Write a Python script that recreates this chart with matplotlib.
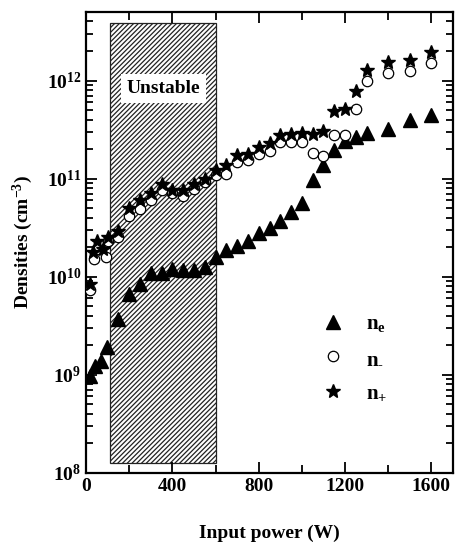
import matplotlib
matplotlib.use("Agg")
import matplotlib.pyplot as plt
from matplotlib.patches import Rectangle
from matplotlib.ticker import LogLocator, MultipleLocator, NullFormatter

plt.rcParams['font.family'] = 'Liberation Serif'
plt.rcParams['font.weight'] = 'bold'
plt.rcParams['axes.labelweight'] = 'bold'
plt.rcParams['mathtext.fontset'] = 'custom'
plt.rcParams['mathtext.rm'] = 'Liberation Serif:bold'
plt.rcParams['mathtext.it'] = 'Liberation Serif:bold'
plt.rcParams['mathtext.bf'] = 'Liberation Serif:bold'
plt.rcParams['hatch.linewidth'] = 0.9

# electron density n_e (triangles)
p_ne = [20, 40, 70, 95, 150, 200, 250, 300, 350, 400, 450, 500, 550, 600, 650, 700,
        750, 800, 850, 900, 950, 1000, 1050, 1100, 1150, 1200, 1250, 1300, 1400, 1500, 1600]
ne = [9.8e8, 1.23e9, 1.38e9, 1.9e9, 3.7e9, 6.6e9, 8.5e9, 1.08e10, 1.08e10, 1.2e10, 1.17e10,
      1.17e10, 1.26e10, 1.57e10, 1.87e10, 2.07e10, 2.33e10, 2.79e10, 3.14e10, 3.73e10, 4.6e10,
      5.7e10, 9.7e10, 1.38e11, 1.96e11, 2.4e11, 2.64e11, 2.9e11, 3.2e11, 3.97e11, 4.5e11]

# negative ion density n_- (open circles)
p_nm = [20, 35, 50, 90, 100, 150, 200, 250, 300, 350, 400, 450, 500, 550, 600, 650, 700,
        750, 800, 850, 900, 950, 1000, 1050, 1100, 1150, 1200, 1250, 1300, 1400, 1500, 1600]
nm = [7.3e9, 1.5e10, 1.9e10, 1.6e10, 2.3e10, 2.56e10, 4.2e10, 4.9e10, 6.0e10, 7.7e10, 7.1e10,
      6.7e10, 7.85e10, 9.2e10, 1.1e11, 1.12e11, 1.47e11, 1.53e11, 1.76e11, 1.93e11, 2.35e11,
      2.35e11, 2.35e11, 1.83e11, 1.69e11, 2.81e11, 2.81e11, 5.1e11, 9.8e11, 1.19e12, 1.24e12, 1.5e12]

# positive ion density n_+ (stars)
p_np = [20, 30, 50, 80, 100, 150, 200, 250, 300, 350, 400, 450, 500, 550, 600, 650, 700,
        750, 800, 850, 900, 950, 1000, 1050, 1100, 1150, 1200, 1250, 1300, 1400, 1500, 1600]
npos = [8.5e9, 1.8e10, 2.3e10, 1.9e10, 2.56e10, 2.95e10, 5.0e10, 6.05e10, 7.2e10, 8.8e10, 7.7e10,
        7.7e10, 8.8e10, 9.9e10, 1.21e11, 1.36e11, 1.72e11, 1.79e11, 2.09e11, 2.29e11, 2.75e11,
        2.86e11, 2.9e11, 2.86e11, 3.04e11, 4.9e11, 5.1e11, 7.8e11, 1.29e12, 1.54e12, 1.63e12, 1.95e12]

unstable_range = (110, 600)

fig = plt.figure(figsize=(4.58, 5.44), dpi=100)
ax = fig.add_axes([0.188, 0.131, 0.801, 0.847])

ax.add_patch(Rectangle((unstable_range[0], 1.26e8), unstable_range[1] - unstable_range[0],
                       3.9e12 - 1.26e8, facecolor='white', edgecolor='#222222',
                       hatch='///////', lw=0.9, zorder=1))
ax.text(360, 8.3e11, 'Unstable', fontsize=14, fontweight='bold', ha='center', va='center',
        zorder=2, bbox=dict(facecolor='white', edgecolor='none', pad=4))

ax.plot(p_ne, ne, '^', color='black', ms=9.5, ls='none', label=r'n$_{\rm e}$', zorder=3)
ax.plot(p_nm, nm, 'o', mfc='white', mec='black', mew=0.9, ms=7.5, ls='none',
        label=r'n$_{\text{-}}$', zorder=3)
ax.plot(p_np, npos, '*', color='black', ms=10, ls='none', label=r'n$_{+}$', zorder=4)

ax.set_yscale('log')
ax.set_xlim(0, 1700)
ax.set_ylim(1e8, 5e12)
ax.xaxis.set_major_locator(MultipleLocator(400))
ax.xaxis.set_minor_locator(MultipleLocator(200))
ax.yaxis.set_major_locator(LogLocator(base=10, numticks=10))
ax.yaxis.set_minor_locator(LogLocator(base=10, subs=range(2, 10), numticks=10))
ax.yaxis.set_minor_formatter(NullFormatter())

ax.tick_params(which='both', direction='in', top=True, right=True, labelsize=14, width=1.3)
ax.tick_params(which='major', length=8)
ax.tick_params(which='minor', length=5)
ax.tick_params(axis='x', which='minor', length=6)
for s in ax.spines.values():
    s.set_linewidth(1.6)

ax.set_xlabel('Input power (W)', fontsize=14, fontweight='bold', labelpad=22)
ax.set_ylabel(r'Densities (cm$^{-3}$)', fontsize=14, fontweight='bold', labelpad=8)

ax.legend(loc='center left', bbox_to_anchor=(0.615, 0.248), frameon=False, fontsize=15,
          handletextpad=1.0, labelspacing=0.7, borderaxespad=0, handlelength=1.2)

fig.savefig('out.png', dpi=100)
